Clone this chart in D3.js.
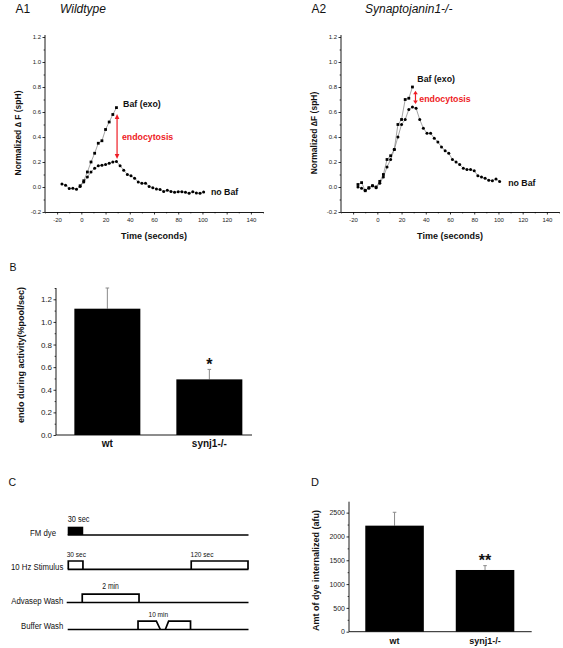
<!DOCTYPE html>
<html><head><meta charset="utf-8">
<script src="https://cdn.jsdelivr.net/npm/d3@7"></script>
<style>
body{margin:0;background:#fff;}
svg{display:block;font-family:"Liberation Sans",Arial,Helvetica,sans-serif;}
</style></head><body>
<svg id="c" width="563" height="648"></svg>
<script>
// ================= DATA =================
// Panel A1 (Wildtype)
const a1NoBafTime  = [-16,-13,-10,-7,-4,-1,2,5,8,11,14,17,20,23,26,29,32,35,38,41,44,47,50,53,56,59,62,65,68,71,74,77,80,83,86,89,92,95,98,101];
const a1NoBafValue = [0.025,0.015,-0.012,-0.01,-0.018,0.005,0.04,0.08,0.12,0.15,0.17,0.175,0.18,0.19,0.2,0.205,0.17,0.135,0.1,0.09,0.07,0.04,0.03,0.03,0.005,-0.005,-0.015,-0.02,-0.035,-0.025,-0.035,-0.042,-0.037,-0.037,-0.042,-0.05,-0.037,-0.047,-0.05,-0.04];
const a1BafTime    = [-1,2,5,8,11,14,17,20,23,26,29];
const a1BafValue   = [0.01,0.05,0.12,0.2,0.27,0.35,0.37,0.46,0.52,0.58,0.635];
const a1Endo       = [29.5, 0.585, 0.225];   // time, top, bottom

// Panel A2 (Synaptojanin1-/-)
const a2NoBafTime  = [-16,-13,-10,-7,-4,-1,2,5,8,11,14,17,20,23,26,29,32,35,38,41,44,47,50,53,56,59,62,65,68,71,74,77,80,83,86,89,92,95,98,101];
const a2NoBafValue = [0.0,-0.01,-0.025,-0.01,0.01,-0.005,0.03,0.08,0.16,0.22,0.3,0.4,0.5,0.54,0.62,0.64,0.63,0.54,0.47,0.43,0.43,0.39,0.36,0.32,0.29,0.27,0.22,0.2,0.18,0.15,0.14,0.14,0.13,0.09,0.08,0.07,0.055,0.05,0.065,0.045];
const a2BafTime    = [-16,-13,-10,-7,-4,-1,2,5,8,11,14,17,20,23,26,29];
const a2BafValue   = [0.02,0.035,-0.03,-0.005,0.01,0.0,0.045,0.1,0.22,0.25,0.3,0.5,0.54,0.7,0.71,0.8];
const a2Endo       = [31.5, 0.77, 0.665];

const aXTicks = [-20,0,20,40,60,80,100,120,140];
const aXMinor = [-30,-10,10,30,50,70,90,110,130,150];
const aYTicks = [-0.2,0,0.2,0.4,0.6,0.8,1.0,1.2];
const aYMinor = [-0.1,0.1,0.3,0.5,0.7,0.9,1.1];

// Panels B and D (bar charts)
const barCats  = ["wt","synj1-/-"];
const bValues  = [1.117,0.492];
const bErrors  = [0.183,0.088];
const bYTicks  = [0,0.2,0.4,0.6,0.8,1.0,1.2];
const bYMinor  = [0.1,0.3,0.5,0.7,0.9,1.1,1.3];
const bSig     = ["","*"];

const dValues  = [2227,1296];
const dErrors  = [281,91];
const dYTicks  = [0,500,1000,1500,2000,2500];
const dYMinor  = [250,750,1250,1750,2250];
const dSig     = ["","**"];

// Panel C (protocol schematic, schematic units)
const cRows       = ["FM dye","10 Hz Stimulus","Advasep Wash","Buffer Wash"];
const cFmPulse    = [[0,15.6]];
const cStimPulses = [[0.6,15.3],[124,181]];
const cWashPulses = [[14.6,71.6]];
const cBufferTraps = [[70.6,70.6,89,93],[98,101.3,123.3,123.3]];
const cNotes      = ["30 sec","30 sec","120 sec","2 min","10 min"];

// ================= DRAW =================
const svg = d3.select("#c");
const RED = "#ee1c25";

function styleAxis(sel, fs){
  sel.select(".domain").attr("stroke","#000").attr("stroke-width",0.9);
  sel.selectAll(".tick line").attr("stroke","#000").attr("stroke-width",0.8);
  sel.selectAll(".tick text").attr("font-size",fs).attr("fill","#222")
     .attr("font-family",'"Liberation Sans",Arial,sans-serif');
}

function panelA(cfg){
  const g = svg.append("g");
  const x = d3.scaleLinear().domain([-30,150]).range([cfg.left, cfg.left+218]);
  const y = d3.scaleLinear().domain([-0.2,1.2]).range([212,37]);

  const yax = g.append("g").attr("transform",`translate(${cfg.left},0)`)
    .call(d3.axisLeft(y).tickValues(aYTicks).tickSize(2.5).tickSizeOuter(0).tickPadding(1.5).tickFormat(d=>d.toFixed(1)));
  styleAxis(yax,6);
  yax.select(".domain").attr("d",`M0,${y(-0.2)}V${y(1.2)-2}`);
  const yMin = g.append("g").attr("transform",`translate(${cfg.left},0)`)
    .call(d3.axisLeft(y).tickValues(aYMinor).tickSize(1.4).tickFormat(""));
  yMin.select(".domain").remove();
  yMin.selectAll("line").attr("stroke","#000").attr("stroke-width",0.7);

  const xax = g.append("g").attr("transform",`translate(0,${y(-0.2)})`)
    .call(d3.axisBottom(x).tickValues(aXTicks).tickSize(2.5).tickSizeOuter(0).tickPadding(3).tickFormat(d=>String(d)));
  styleAxis(xax,6);
  const xMin = g.append("g").attr("transform",`translate(0,${y(-0.2)})`)
    .call(d3.axisBottom(x).tickValues(aXMinor).tickSize(1.4).tickFormat(""));
  xMin.select(".domain").remove();
  xMin.selectAll("line").attr("stroke","#000").attr("stroke-width",0.7);

  // series lines
  const line = d3.line().x(d=>x(d[0])).y(d=>y(d[1]));
  const nb = cfg.nbT.map((t,i)=>[t,cfg.nbV[i]]);
  const bf = cfg.bfT.map((t,i)=>[t,cfg.bfV[i]]);
  g.append("path").attr("d",line(bf)).attr("fill","none").attr("stroke","#666").attr("stroke-width",0.6);
  g.append("path").attr("d",line(nb)).attr("fill","none").attr("stroke","#666").attr("stroke-width",0.6);
  const s = 2.8;
  g.selectAll(".sq").data(bf).join("rect")
    .attr("x",d=>x(d[0])-s/2).attr("y",d=>y(d[1])-s/2).attr("width",s).attr("height",s).attr("fill","#000");
  g.selectAll(".ci").data(nb).join("circle")
    .attr("cx",d=>x(d[0])).attr("cy",d=>y(d[1])).attr("r",1.5).attr("fill","#000");

  // endocytosis arrow
  const [et,etop,ebot] = cfg.endo;
  const ax = x(et), y1 = y(etop), y2 = y(ebot), hl = cfg.head, hw = 2.3;
  g.append("line").attr("x1",ax).attr("x2",ax).attr("y1",y1+hl-0.5).attr("y2",y2-hl+0.5)
    .attr("stroke",RED).attr("stroke-width",1.2);
  g.append("path").attr("d",`M${ax},${y1}L${ax-hw},${y1+hl}L${ax+hw},${y1+hl}Z`).attr("fill",RED);
  g.append("path").attr("d",`M${ax},${y2}L${ax-hw},${y2-hl}L${ax+hw},${y2-hl}Z`).attr("fill",RED);

  // annotations
  const ann = (t,v,txt,col)=>g.append("text").attr("x",x(t)).attr("y",y(v)).text(txt)
      .attr("font-size",8.8).attr("font-weight","bold").attr("fill",col);
  ann(cfg.bafLab[0],cfg.bafLab[1],"Baf (exo)","#111");
  ann(cfg.endoLab[0],cfg.endoLab[1],"endocytosis",RED);
  ann(cfg.noLab[0],cfg.noLab[1],"no Baf","#111");

  // axis titles
  g.append("text").attr("x",x(60)).attr("y",238.5).attr("text-anchor","middle")
    .attr("font-size",9).attr("font-weight","bold").attr("fill","#111").text("Time (seconds)");
  g.append("text").attr("transform",`translate(${cfg.left-24.5},133) rotate(-90)`).attr("text-anchor","middle")
    .attr("font-size",8.5).attr("font-weight","bold").attr("fill","#111").text(cfg.yTitle);

  // panel titles
  g.append("text").attr("x",cfg.left-29.5).attr("y",12.7).attr("font-size",12).attr("fill","#111").text(cfg.tag);
  g.append("text").attr("x",cfg.titleX).attr("y",12.7).attr("font-size",12).attr("font-style","italic").attr("fill","#111").text(cfg.title);
}

panelA({left:45, nbT:a1NoBafTime, nbV:a1NoBafValue, bfT:a1BafTime, bfV:a1BafValue, endo:a1Endo, head:5,
  bafLab:[34.5,0.64], endoLab:[33.5,0.375], noLab:[107,-0.065],
  yTitle:"Normalized \u2206 F (spH)", tag:"A1", title:"Wildtype", titleX:60});
panelA({left:341, nbT:a2NoBafTime, nbV:a2NoBafValue, bfT:a2BafTime, bfV:a2BafValue, endo:a2Endo, head:3.5,
  bafLab:[33,0.84], endoLab:[34.7,0.684], noLab:[108,0.008],
  yTitle:"Normalized \u2206F (spH)", tag:"A2", title:"Synaptojanin1-/-", titleX:365});

function barPanel(cfg){
  const g = svg.append("g");
  const x = d3.scaleBand().domain(barCats).range(cfg.band).paddingInner(0.353).paddingOuter(0.18);
  const y = d3.scaleLinear().domain(cfg.yDom).range(cfg.yRange);
  const left = cfg.band[0];

  const yax = g.append("g").attr("transform",`translate(${left},0)`)
    .call(d3.axisLeft(y).tickValues(cfg.ticks).tickSize(2.5).tickSizeOuter(0).tickPadding(1.5).tickFormat(cfg.fmt));
  styleAxis(yax,cfg.tickFs);
  yax.select(".domain").attr("d",`M0,${cfg.yRange[0]}V${cfg.yRange[1]}`);
  const yMin = g.append("g").attr("transform",`translate(${left},0)`)
    .call(d3.axisLeft(y).tickValues(cfg.minor).tickSize(1.4).tickFormat(""));
  yMin.select(".domain").remove();
  yMin.selectAll("line").attr("stroke","#000").attr("stroke-width",0.7);

  const rows = barCats.map((c,i)=>({c, v:cfg.values[i], e:cfg.errors[i], s:cfg.sig[i]}));
  // error bars
  rows.forEach(r=>{
    const cx = x(r.c)+x.bandwidth()/2;
    g.append("line").attr("x1",cx).attr("x2",cx).attr("y1",y(r.v)).attr("y2",y(r.v+r.e))
      .attr("stroke","#8a8a8a").attr("stroke-width",1);
    g.append("line").attr("x1",cx-1.8).attr("x2",cx+1.8).attr("y1",y(r.v+r.e)).attr("y2",y(r.v+r.e))
      .attr("stroke","#8a8a8a").attr("stroke-width",1);
  });
  g.selectAll(".bar").data(rows).join("rect")
    .attr("x",d=>x(d.c)).attr("y",d=>y(d.v)).attr("width",x.bandwidth()).attr("height",d=>y(0)-y(d.v)).attr("fill","#000");
  // x axis line
  g.append("line").attr("x1",left).attr("x2",cfg.axisEnd).attr("y1",y(0)).attr("y2",y(0)).attr("stroke","#000").attr("stroke-width",0.9);
  // category labels
  g.selectAll(".cat").data(rows).join("text")
    .attr("x",d=>x(d.c)+x.bandwidth()/2).attr("y",cfg.catY).attr("text-anchor","middle")
    .attr("font-size",cfg.catFs).attr("font-weight","bold").attr("fill","#111").text(d=>d.c);
  // significance
  g.selectAll(".sig").data(rows).join("text")
    .attr("x",d=>x(d.c)+x.bandwidth()/2).attr("y",d=>y(d.v+d.e)+cfg.sigOff).attr("text-anchor","middle")
    .attr("font-size",16).attr("font-weight","bold").attr("fill","#111").text(d=>d.s);
  // y title
  g.append("text").attr("transform",`translate(${cfg.titleX},${cfg.titleY}) rotate(-90)`).attr("text-anchor","middle")
    .attr("font-size",9).attr("font-weight","bold").attr("fill","#111").text(cfg.yTitle);
  g.append("text").attr("x",cfg.tagX).attr("y",cfg.tagY).attr("font-size",cfg.tagFs).attr("fill","#111").text(cfg.tag);
}

barPanel({band:[56,260.7], axisEnd:252, yDom:[0,1.3], yRange:[435,288], ticks:bYTicks, minor:bYMinor,
  fmt:d=>d.toFixed(1), tickFs:8, values:bValues, errors:bErrors, sig:bSig, catY:446.5, catFs:10, sigOff:0.5,
  yTitle:"endo during activity(%pool/sec)", titleX:23.5, titleY:355, tag:"B", tagX:9.5, tagY:270.5, tagFs:10.5});

barPanel({band:[349,530.6], axisEnd:531.7, yDom:[0,2730], yRange:[631.7,501.7], ticks:dYTicks, minor:dYMinor,
  fmt:d=>String(d), tickFs:7, values:dValues, errors:dErrors, sig:dSig, catY:643.5, catFs:9, sigOff:0.5,
  yTitle:"Amt of dye internalized (afu)", titleX:318.5, titleY:570.5, tag:"D", tagX:311, tagY:486, tagFs:11});

// ---------- Panel C ----------
(function(){
  const g = svg.append("g");
  const x = d3.scaleLinear().domain([0,182]).range([67.7,249]);
  const lineY = {"FM dye":535,"10 Hz Stimulus":569.3,"Advasep Wash":602.5,"Buffer Wash":629.5};
  const yOf = r => lineY[r];
  const H = 8.3, SW = 1.7;
  const narrow = (gx,gy,txt,fs,anchor)=>g.append("text")
    .attr("transform",`translate(${gx},${gy}) scale(0.82,1)`).attr("text-anchor",anchor||"start")
    .attr("font-size",fs).attr("fill","#111").text(txt);

  // baselines
  cRows.forEach((r,i)=>{
    g.append("line").attr("x1",x(i===2?-1:0)).attr("x2",x(181.5)).attr("y1",yOf(r)).attr("y2",yOf(r))
      .attr("stroke","#000").attr("stroke-width",SW);
  });
  // FM dye pulse (filled)
  cFmPulse.forEach(p=>g.append("rect").attr("x",x(p[0])).attr("y",yOf(cRows[0])-H)
    .attr("width",x(p[1])-x(p[0])).attr("height",H).attr("fill","#000"));
  // open pulses
  const openPulse = (p,r)=>g.append("path")
    .attr("d",`M${x(p[0])},${yOf(r)}V${yOf(r)-H}H${x(p[1])}V${yOf(r)}`)
    .attr("fill","none").attr("stroke","#000").attr("stroke-width",SW);
  cStimPulses.forEach(p=>openPulse(p,cRows[1]));
  cWashPulses.forEach(p=>openPulse(p,cRows[2]));
  cBufferTraps.forEach(p=>{
    const yb = yOf(cRows[3]), yt = yb-H;
    g.append("path").attr("d",`M${x(p[0])},${yb}L${x(p[1])},${yt}L${x(p[2])},${yt}L${x(p[3])},${yb}`)
      .attr("fill","none").attr("stroke","#000").attr("stroke-width",SW);
  });
  // row labels
  narrow(56,536,cRows[0],9.5,"end");
  narrow(63.3,569.5,cRows[1],9.5,"end");
  narrow(63.3,603.5,cRows[2],9.5,"end");
  narrow(63.3,629,cRows[3],9.5,"end");
  // notes
  narrow(x(0),522.3,cNotes[0],9);
  narrow(x(-1),557,cNotes[1],8);
  narrow(x(123.3),557,cNotes[2],8);
  narrow(x(43),589,cNotes[3],8.3,"middle");
  narrow(x(91),616.5,cNotes[4],8,"middle");
  g.append("text").attr("x",8.5).attr("y",486).attr("font-size",10.5).attr("fill","#111").text("C");
})();
</script>
</body></html>
